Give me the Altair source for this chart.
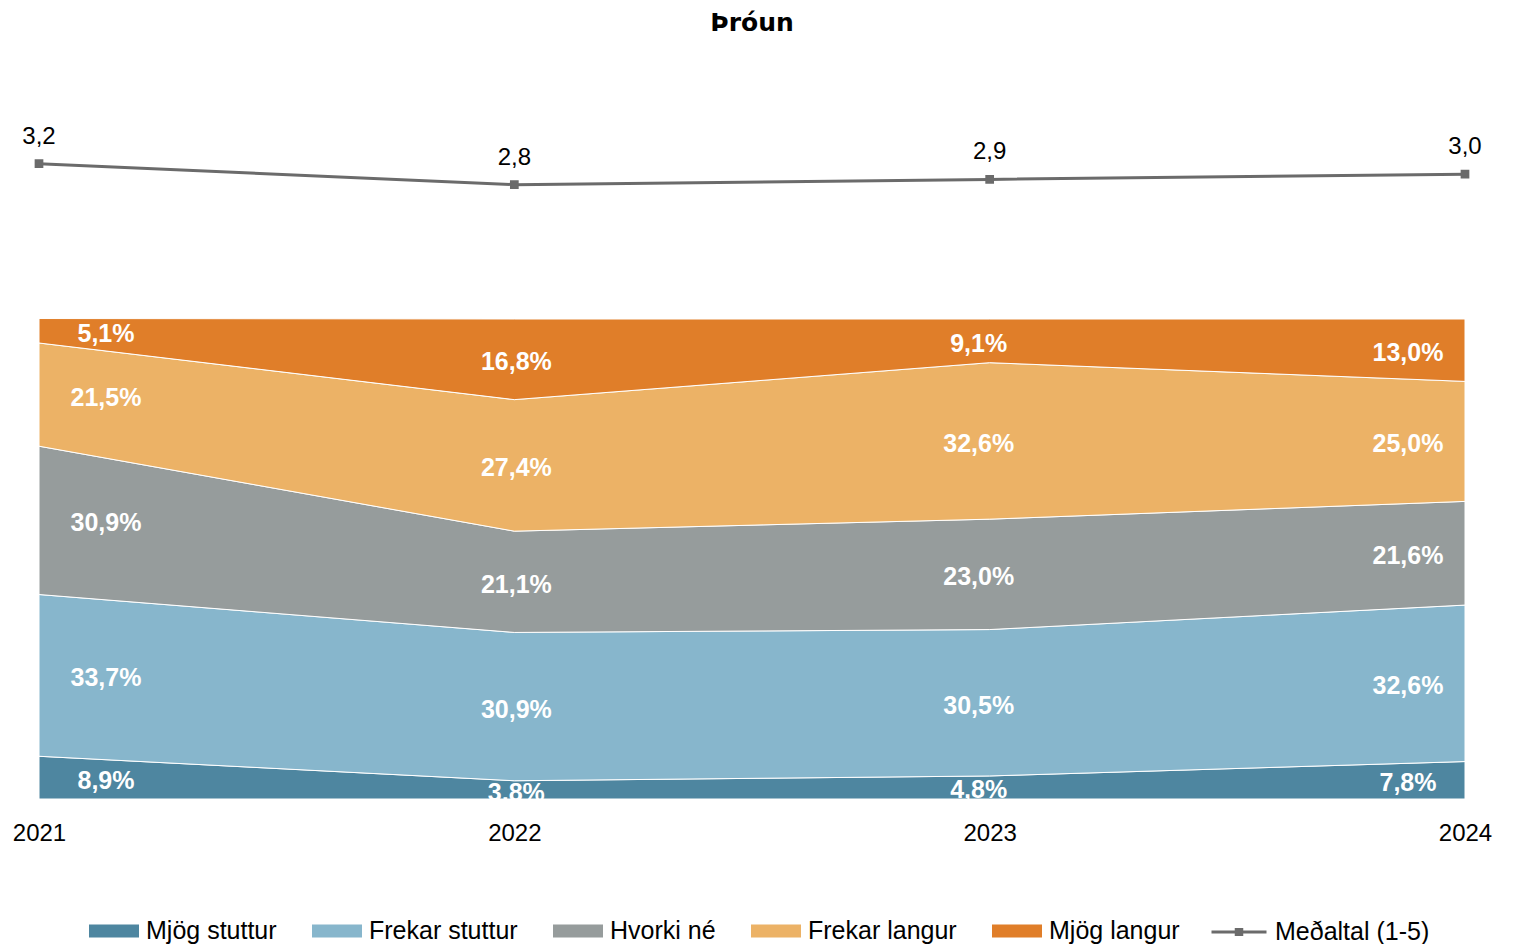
import altair as alt
import pandas as pd

years = ["2021", "2022", "2023", "2024"]
categories = ["Mjög stuttur", "Frekar stuttur", "Hvorki né", "Frekar langur", "Mjög langur"]
colors = ["#4e86a0", "#87b6cc", "#969c9c", "#ecb266", "#e07e29"]
mjog_stuttur = [8.9, 3.8, 4.8, 7.8]
frekar_stuttur = [33.7, 30.9, 30.5, 32.6]
hvorki_ne = [30.9, 21.1, 23.0, 21.6]
frekar_langur = [21.5, 27.4, 32.6, 25.0]
mjog_langur = [5.1, 16.8, 9.1, 13.0]
medaltal = [3.2, 2.8, 2.9, 3.0]
line_name = "Meðaltal (1-5)"

series = [mjog_stuttur, frekar_stuttur, hvorki_ne, frekar_langur, mjog_langur]
rows = []
for idx, (cat, vals) in enumerate(zip(categories, series)):
    for y, v in zip(years, vals):
        rows.append({"year": y, "cat": cat, "idx": idx, "pct": v,
                     "label": f"{v:.1f}".replace(".", ",") + "%"})
df = pd.DataFrame(rows)
line_df = pd.DataFrame({"year": years, "mean": medaltal,
                        "label": [f"{v:.1f}".replace(".", ",") for v in medaltal],
                        "series": [line_name] * len(years)})

FONT = "Liberation Sans"
pct_scale = alt.Scale(domain=[0, 152.5])
x_enc = alt.X("year:O", scale=alt.Scale(type="point", padding=0, domain=years),
              axis=alt.Axis(title=None, ticks=False, domain=False, labelAngle=0,
                            labelFontSize=24, labelFont=FONT, labelColor="#000000",
                            labelPadding=22, grid=False))

base = alt.Chart(df)
area = base.mark_area(stroke="white", strokeWidth=1, opacity=1).encode(
    x=x_enc,
    y=alt.Y("pct:Q", stack="zero", scale=pct_scale, axis=None),
    fill=alt.Fill("cat:N", scale=alt.Scale(domain=categories, range=colors),
                  legend=alt.Legend(title=None, orient="none", legendX=50, legendY=839,
                                    direction="horizontal",
                                    symbolType="M-1,-0.26L1,-0.26L1,0.26L-1,0.26Z",
                                    symbolSize=2500, symbolStrokeWidth=0,
                                    labelFontSize=25, labelFont=FONT, labelColor="#000000",
                                    labelOffset=7, columnPadding=35, labelLimit=400)),
    order=alt.Order("idx:Q"),
)

dx_map = {"2021": 67, "2022": 2, "2023": -11, "2024": -57}
texts = []
for y in years:
    t = base.transform_filter(alt.datum.year == y).transform_stack(
        stack="pct", groupby=["year"], as_=["y0", "y1"], sort=[alt.SortField("idx")]
    ).transform_calculate(mid="(datum.y0 + datum.y1) / 2").mark_text(
        color="white", fontWeight="bold", fontSize=25, font=FONT, dx=dx_map[y], dy=3,
        baseline="middle", align="center", clip=True
    ).encode(
        x=x_enc,
        y=alt.Y("mid:Q", scale=pct_scale, axis=None),
        text="label:N",
    )
    texts.append(t)

line_scale = alt.Scale(domain=[-8.95, 5.05])
line = alt.Chart(line_df).mark_line(
    strokeWidth=3, point=alt.OverlayMarkDef(shape="square", size=45, filled=True, color="#6b6b6b")
).encode(
    x=x_enc,
    y=alt.Y("mean:Q", scale=line_scale, axis=None),
    stroke=alt.Stroke("series:N", scale=alt.Scale(domain=[line_name], range=["#6b6b6b"]),
                      legend=alt.Legend(title=None, orient="none", legendX=1171, legendY=836,
                                        symbolType="M-1,0L1,0M-0.1,-0.09L0.1,-0.09L0.1,0.09L-0.1,0.09Z",
                                        symbolSize=3025, symbolStrokeWidth=3,
                                        symbolFillColor="#6b6b6b",
                                        labelFontSize=25, labelFont=FONT, labelColor="#000000",
                                        labelOffset=7, labelLimit=400)),
)
line_labels = alt.Chart(line_df).mark_text(fontSize=24, font=FONT, color="#000000",
                                           dy=-27, baseline="middle", align="center").encode(
    x=x_enc,
    y=alt.Y("mean:Q", scale=line_scale, axis=None),
    text="label:N",
)

chart = alt.layer(area, *texts, line, line_labels).resolve_scale(y="independent").properties(
    width=1426, height=732,
    title=alt.Title("Þróun", fontSize=25, font="DejaVu Sans", fontWeight="bold",
                    anchor="middle", offset=31, color="#000000"),
    autosize=alt.AutoSizeParams(type="none"),
    padding={"left": 31, "top": 59, "right": 40, "bottom": 145},
).configure_view(stroke=None)

chart.save("out.html", embed_options={"renderer": "svg", "actions": False})
